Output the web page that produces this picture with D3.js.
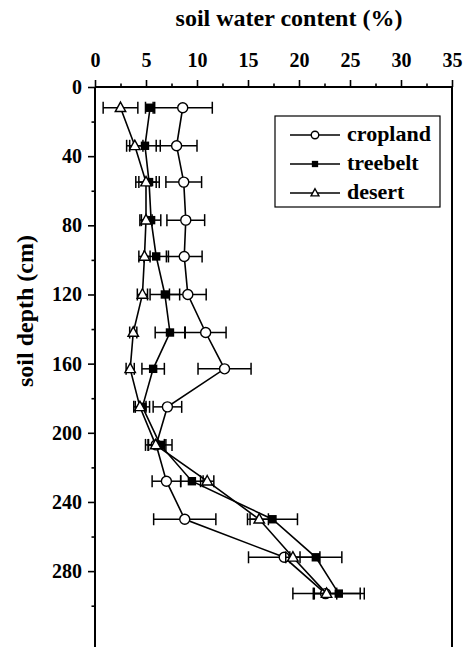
<!DOCTYPE html>
<html>
<head>
<meta charset="utf-8">
<script src="https://cdn.jsdelivr.net/npm/d3@7"></script>
<style>
  html, body { margin: 0; padding: 0; background: #fff; }
  svg { display: block; }
  text { font-family: "Liberation Serif", "Times New Roman", serif; font-weight: bold; fill: #000; }
</style>
</head>
<body>
<svg id="chart" width="467" height="647"></svg>
<script>
// Sampling depths (cm)
const depth = [12, 34, 55, 77, 98, 120, 142, 163, 185, 207, 228, 250, 272, 293];

// Soil water content (%) and standard errors per land-use type
const cropland    = [8.6, 8.0, 8.7, 8.9, 8.75, 9.1, 10.85, 12.7, 7.1, 6.0, 7.0, 8.8, 18.55, 22.6];
const croplandErr = [2.9, 2.0, 1.75, 1.85, 1.75, 1.8, 2.0, 2.6, 1.4, 0.8, 1.4, 3.05, 3.5, 1.1];
const treebelt    = [5.4, 4.9, 5.3, 5.5, 6.0, 6.85, 7.35, 5.7, 4.65, 6.4, 9.5, 17.4, 21.65, 23.9];
const treebeltErr = [0.45, 1.5, 1.0, 0.95, 1.2, 1.45, 1.45, 1.1, 0.7, 1.15, 1.1, 2.45, 2.55, 2.5];
const desert      = [2.5, 3.9, 5.0, 5.0, 4.85, 4.65, 3.75, 3.45, 4.4, 5.95, 11.0, 16.1, 19.4, 22.7];
const desertErr   = [1.7, 0.8, 1.0, 0.6, 0.55, 0.5, 0.35, 0.4, 0.6, 1.0, 0.65, 0.9, 0.7, 3.3];

const seriesNames = ["cropland", "treebelt", "desert"];
const xTicks = [0, 5, 10, 15, 20, 25, 30, 35];
const yTicks = [0, 40, 80, 120, 160, 200, 240, 280];

const series = [
  { name: seriesNames[0], values: cropland, err: croplandErr, shape: "circle" },
  { name: seriesNames[1], values: treebelt, err: treebeltErr, shape: "square" },
  { name: seriesNames[2], values: desert,   err: desertErr,   shape: "triangle" }
];

const svg = d3.select("#chart");
const plotLeft = 95, plotRight = 452, plotTop = 87;

const x = d3.scaleLinear().domain([0, 35]).range([plotLeft, plotRight]);
const y = d3.scaleLinear().domain([0, 340]).range([plotTop, plotTop + 340 * 1.729]);

// Top axis (x)
const xAxis = d3.axisTop(x).tickValues(xTicks).tickFormat(d3.format("d")).tickSize(7).tickPadding(13);
const gx = svg.append("g").attr("transform", `translate(0,${plotTop})`).call(xAxis);
gx.select(".domain").remove();
gx.selectAll(".tick line").attr("stroke-width", 1.6);
gx.selectAll(".tick text").style("font-size", "20px").attr("font-family", null);
svg.append("g").attr("transform", `translate(0,${plotTop})`)
  .call(d3.axisTop(x).tickValues(d3.range(2.5, 35, 5)).tickFormat("").tickSize(3.5))
  .call(g => g.select(".domain").remove())
  .selectAll(".tick line").attr("stroke-width", 1.6);

// Left axis (y)
const yAxis = d3.axisLeft(y).tickValues(yTicks).tickFormat(d3.format("d")).tickSize(7).tickPadding(6);
const gy = svg.append("g").attr("transform", `translate(${plotLeft},0)`).call(yAxis);
gy.select(".domain").remove();
gy.selectAll(".tick line").attr("stroke-width", 1.6);
gy.selectAll(".tick text").style("font-size", "20px").attr("font-family", null);
svg.append("g").attr("transform", `translate(${plotLeft},0)`)
  .call(d3.axisLeft(y).tickValues(d3.range(20, 340, 40)).tickFormat("").tickSize(3.5))
  .call(g => g.select(".domain").remove())
  .selectAll(".tick line").attr("stroke-width", 1.6);

// Frame lines
const frame = svg.append("g").attr("stroke", "#000").attr("stroke-width", 2).attr("fill", "none");
frame.append("line").attr("x1", plotLeft).attr("x2", plotRight).attr("y1", plotTop).attr("y2", plotTop);
frame.append("line").attr("x1", plotLeft).attr("x2", plotLeft).attr("y1", plotTop).attr("y2", y(340));
frame.append("line").attr("x1", plotRight).attr("x2", plotRight).attr("y1", plotTop).attr("y2", y(340));

// Axis titles
svg.append("text").attr("x", 289).attr("y", 26).attr("text-anchor", "middle")
  .style("font-size", "24px").text("soil water content (%)");
svg.append("text").attr("transform", "translate(33,311) rotate(-90)").attr("text-anchor", "middle")
  .style("font-size", "24px").text("soil depth (cm)");

// Marker drawing helper
function marker(g, shape, cx, cy, s) {
  if (shape === "circle") {
    g.append("circle").attr("cx", cx).attr("cy", cy).attr("r", s * 0.5)
      .attr("fill", "#fff").attr("stroke", "#000").attr("stroke-width", 1.4);
  } else if (shape === "square") {
    g.append("rect").attr("x", cx - s * 0.42).attr("y", cy - s * 0.42)
      .attr("width", s * 0.84).attr("height", s * 0.84).attr("fill", "#000");
  } else {
    const h = s * 0.95, w = s * 1.05;
    g.append("path").attr("d", `M${cx},${cy - h * 0.6}L${cx + w / 2},${cy + h * 0.4}L${cx - w / 2},${cy + h * 0.4}Z`)
      .attr("fill", "#fff").attr("stroke", "#000").attr("stroke-width", 1.4);
  }
}

const line = d3.line().x(d => x(d[0])).y(d => y(d[1]));
const plot = svg.append("g");

series.forEach(s => {
  const g = plot.append("g");
  const pts = s.values.map((v, i) => [v, depth[i]]);
  // error bars
  s.values.forEach((v, i) => {
    const cy = y(depth[i]);
    const x0 = x(v - s.err[i]), x1 = x(v + s.err[i]);
    g.append("line").attr("x1", x0).attr("x2", x1).attr("y1", cy).attr("y2", cy)
      .attr("stroke", "#000").attr("stroke-width", 1.5);
    [x0, x1].forEach(xx => g.append("line").attr("x1", xx).attr("x2", xx)
      .attr("y1", cy - 6).attr("y2", cy + 6).attr("stroke", "#000").attr("stroke-width", 1.5));
  });
  g.append("path").datum(pts).attr("d", line)
    .attr("fill", "none").attr("stroke", "#000").attr("stroke-width", 1.6);
  pts.forEach(p => marker(g, s.shape, x(p[0]), y(p[1]), 10));
});

// Legend
const lg = svg.append("g");
lg.append("rect").attr("x", 275).attr("y", 116).attr("width", 165).attr("height", 91)
  .attr("fill", "#fff").attr("stroke", "#000").attr("stroke-width", 1.2);
series.forEach((s, i) => {
  const ly = 135 + i * 29;
  lg.append("line").attr("x1", 290).attr("x2", 340).attr("y1", ly).attr("y2", ly)
    .attr("stroke", "#000").attr("stroke-width", 1.5);
  marker(lg, s.shape, 315, ly, 7.5);
  lg.append("text").attr("x", 347).attr("y", ly + 6).style("font-size", "22px").text(s.name);
});
</script>
</body>
</html>
